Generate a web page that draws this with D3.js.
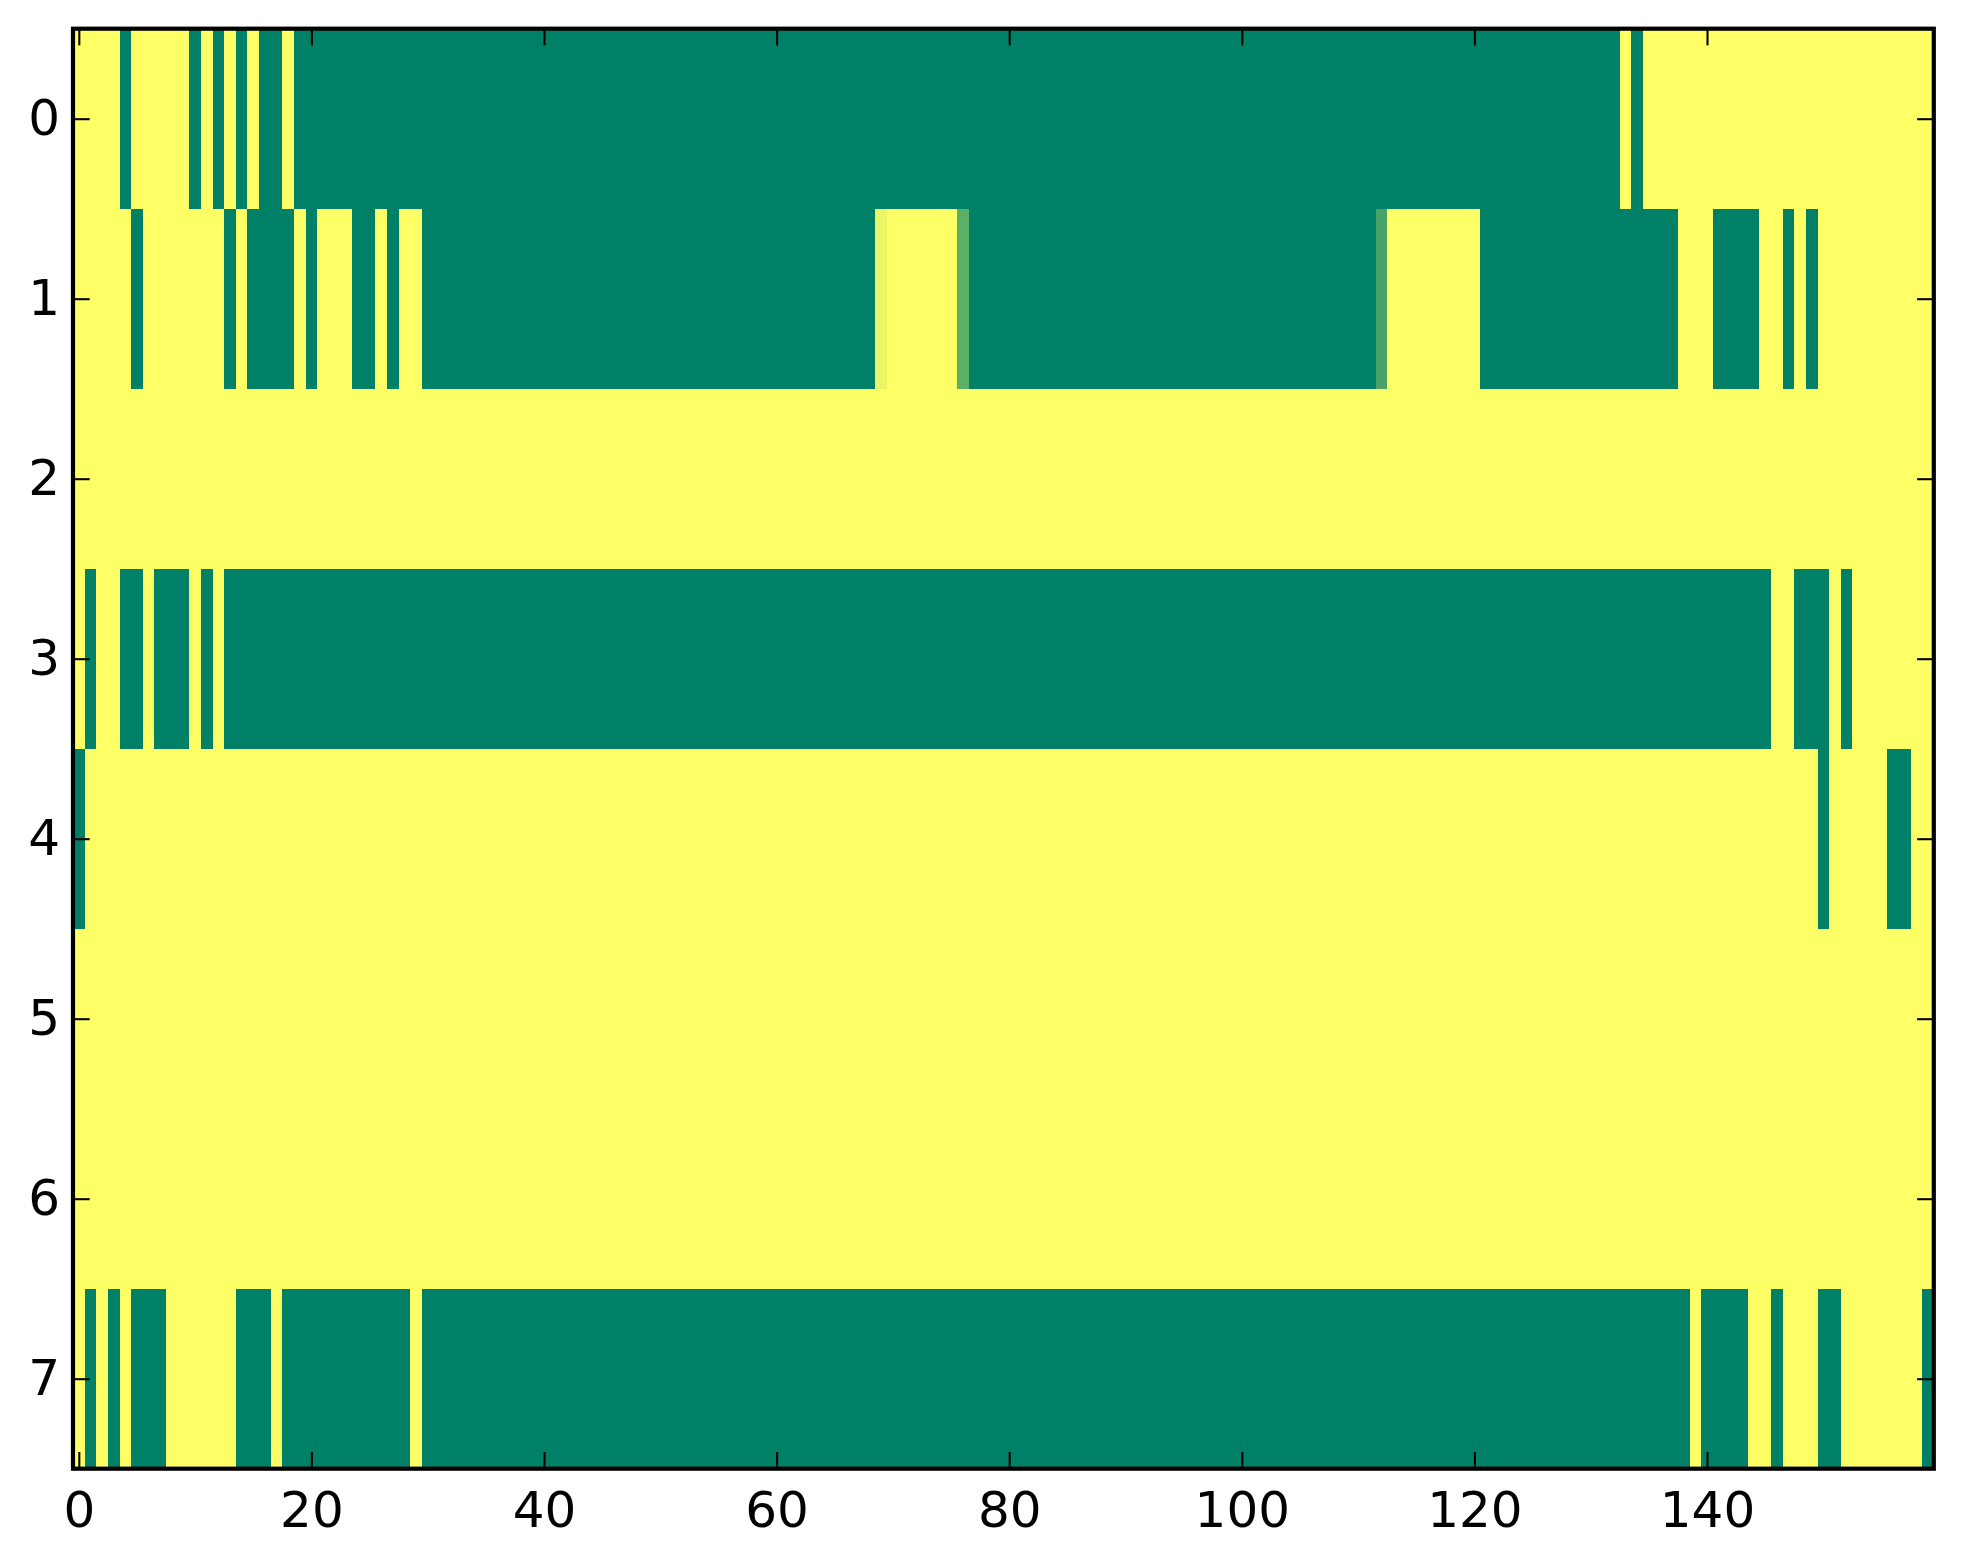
<!DOCTYPE html>
<html>
<head>
<meta charset="utf-8">
<script src="https://cdn.jsdelivr.net/npm/d3@7"></script>
<style>
  body { margin: 0; background: white; }
  .axis text { font-family: "DejaVu Sans", sans-serif; font-size: 50px; fill: black; }
  .axis line { stroke: black; stroke-width: 2.1; }
  .axis path { display: none; }
</style>
</head>
<body>
<div id="chart"></div>
<script>
var w = 1963;
var h = 1564;

// plot area
var margin = {top: 28.7, right: 29.2, bottom: 95.3, left: 73},
    width = w - margin.left - margin.right,
    height = h - margin.top - margin.bottom;

// each row is stored as runs of [value, count], left to right (160 columns)
var nCols = 160;
var row0 = [[1,4],[0,1],[1,5],[0,1],[1,1],[0,1],[1,1],[0,1],[1,1],[0,2],[1,1],[0,114],[1,1],[0,1],[1,25]];
var row1 = [[1,5],[0,1],[1,7],[0,1],[1,1],[0,4],[1,1],[0,1],[1,3],[0,2],[1,1],[0,1],[1,2],[0,39],
            [0.92,1],[1,6],[0.37,1],[0,35],[0.28,1],[1,8],[0,17],[1,3],[0,4],[1,2],[0,1],[1,1],[0,1],[1,10]];
var row2 = [[1,160]];
var row3 = [[1,1],[0,1],[1,2],[0,2],[1,1],[0,3],[1,1],[0,1],[1,1],[0,133],[1,2],[0,3],[1,1],[0,1],[1,7]];
var row4 = [[0,1],[1,149],[0,1],[1,5],[0,2],[1,2]];
var row5 = [[1,160]];
var row6 = [[1,160]];
var row7 = [[1,1],[0,1],[1,1],[0,1],[1,1],[0,3],[1,6],[0,3],[1,1],[0,11],[1,1],[0,109],[1,1],[0,4],[1,2],[0,1],[1,3],[0,2],[1,7],[0,1]];
var rows = [row0, row1, row2, row3, row4, row5, row6, row7];

var xTicks = [0, 20, 40, 60, 80, 100, 120, 140];
var yTicks = [0, 1, 2, 3, 4, 5, 6, 7];

// matplotlib "summer": green -> yellow
var color = d3.scaleLinear()
    .domain([0, 1])
    .range(["#008066", "#ffff66"])
    .interpolate(d3.interpolateRgb);

// build the cell table from the runs
var cells = [];
rows.forEach(function (runs, r) {
    var c = 0;
    runs.forEach(function (run) {
        for (var k = 0; k < run[1]; k++) {
            cells.push({row: r, col: c, value: run[0]});
            c++;
        }
    });
});

var x = d3.scaleLinear()
    .domain([-0.5, nCols - 0.5])
    .range([0, width]);

var y = d3.scaleLinear()
    .domain([-0.5, rows.length - 0.5])
    .range([0, height]);

var svg = d3.select("#chart")
    .append("svg")
    .attr("width", w)
    .attr("height", h)
    .append("g")
    .attr("transform", "translate(" + margin.left + "," + margin.top + ")");

// cells, snapped so neighbours share edges exactly
svg.append("g")
    .selectAll("rect")
    .data(cells)
    .enter()
    .append("rect")
    .attr("x", function (d) { return Math.round(x(d.col - 0.5)); })
    .attr("width", function (d) { return Math.round(x(d.col + 0.5)) - Math.round(x(d.col - 0.5)); })
    .attr("y", function (d) { return Math.round(y(d.row - 0.5)); })
    .attr("height", function (d) { return Math.round(y(d.row + 0.5)) - Math.round(y(d.row - 0.5)); })
    .attr("fill", function (d) { return color(d.value); })
    .attr("shape-rendering", "crispEdges");

var tickLen = 16.7;

// ticks point inwards on all four sides, labels only bottom and left
svg.append("g")
    .attr("class", "axis")
    .attr("transform", "translate(0," + height + ")")
    .call(d3.axisBottom(x).tickValues(xTicks).tickSize(-tickLen).tickPadding(23));

svg.append("g")
    .attr("class", "axis")
    .call(d3.axisTop(x).tickValues(xTicks).tickSize(-tickLen).tickFormat(""));

svg.append("g")
    .attr("class", "axis")
    .call(d3.axisLeft(y).tickValues(yTicks).tickSize(-tickLen).tickPadding(13));

svg.append("g")
    .attr("class", "axis")
    .attr("transform", "translate(" + width + ",0)")
    .call(d3.axisRight(y).tickValues(yTicks).tickSize(-tickLen).tickFormat(""));

// frame
svg.append("rect")
    .attr("width", width)
    .attr("height", height)
    .attr("fill", "none")
    .attr("stroke", "black")
    .attr("stroke-width", 4.2);
</script>
</body>
</html>
